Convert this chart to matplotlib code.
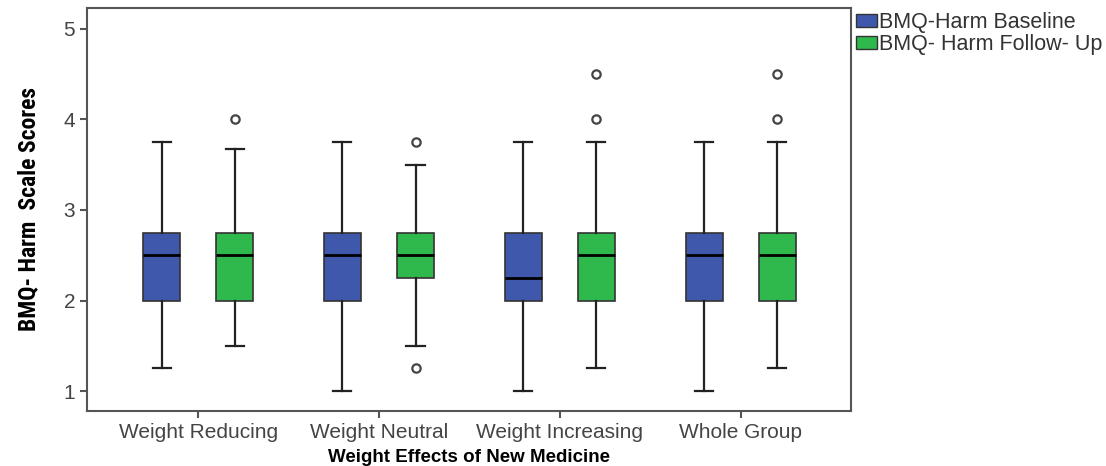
import matplotlib.pyplot as plt
from matplotlib.patches import Patch
from matplotlib import font_manager

groups = ["Weight Reducing", "Weight Neutral", "Weight Increasing", "Whole Group"]
series = ["BMQ-Harm Baseline", "BMQ- Harm Follow- Up"]

# five-number summaries: low whisker, Q1, median, Q3, high whisker
baseline = [
    [1.25, 2.0, 2.5, 2.75, 3.75],
    [1.0, 2.0, 2.5, 2.75, 3.75],
    [1.0, 2.0, 2.25, 2.75, 3.75],
    [1.0, 2.0, 2.5, 2.75, 3.75],
]
followup = [
    [1.5, 2.0, 2.5, 2.75, 3.67],
    [1.5, 2.25, 2.5, 2.75, 3.5],
    [1.25, 2.0, 2.5, 2.75, 3.75],
    [1.25, 2.0, 2.5, 2.75, 3.75],
]
baseline_out = [[], [], [], []]
followup_out = [[4.0], [3.75, 1.25], [4.0, 4.5], [4.0, 4.5]]

colors = ["#3f58ab", "#2fb84b"]
gray = "#555555"

plt.rcParams['font.family'] = ['Liberation Sans', 'DejaVu Sans']

# pick a condensed face for the y label if one is around
names = set(f.name for f in font_manager.fontManager.ttflist)
narrow = [n for n in ["Roboto Condensed", "Liberation Sans Narrow", "DejaVu Sans Condensed"] if n in names]

fig = plt.figure(figsize=(11.06, 4.66), dpi=100)
ax = fig.add_axes([0.0787, 0.118, 0.6908, 0.865])

def stats(vals, outs):
    s = []
    for v, o in zip(vals, outs):
        s.append(dict(whislo=v[0], q1=v[1], med=v[2], q3=v[3], whishi=v[4], fliers=o))
    return s

offs = [-0.202, 0.202]
for k, (vals, outs) in enumerate([(baseline, baseline_out), (followup, followup_out)]):
    pos = [i + offs[k] for i in range(len(groups))]
    ax.bxp(stats(vals, outs), positions=pos, widths=0.205, patch_artist=True,
           showfliers=True, capwidths=0.1,
           boxprops=dict(facecolor=colors[k], edgecolor="#333333", linewidth=1.2),
           medianprops=dict(color="black", linewidth=2),
           whiskerprops=dict(color="#222222", linewidth=1.6),
           capprops=dict(color="#222222", linewidth=1.6),
           flierprops=dict(marker="o", markerfacecolor="white", markeredgecolor="#444444",
                           markersize=6, markeredgewidth=1.6))

ax.set_xlim(-0.614, 3.61)
ax.set_ylim(0.78, 5.23)
ax.set_xticks(range(len(groups)))
ax.set_xticklabels(groups, fontsize=15, color="#444444")
ax.set_yticks([1, 2, 3, 4, 5])
ax.set_yticklabels(["1", "2", "3", "4", "5"], fontsize=15, color="#444444")
ax.tick_params(axis="both", direction="out", length=5, width=1.5, color=gray)
for sp in ax.spines.values():
    sp.set_color(gray)
    sp.set_linewidth(1.5)

ax.set_xlabel("Weight Effects of New Medicine", fontsize=13.5, fontweight="bold", labelpad=5)
if narrow:
    ax.set_ylabel("BMQ- Harm  Scale Scores", fontsize=17, fontweight="bold",
                  family=[narrow[0], "DejaVu Sans"], labelpad=17)
else:
    ax.set_ylabel("BMQ- Harm  Scale Scores", fontsize=14, fontweight="bold", labelpad=17)

handles = [Patch(facecolor=c, edgecolor="#333333", linewidth=1) for c in colors]
fig.legend(handles, series, loc="upper left", bbox_to_anchor=(0.764, 0.997), frameon=False,
           fontsize=15.5, borderpad=0, handlelength=1.0, handleheight=0.6,
           handletextpad=0.1, labelspacing=0.05, labelcolor="#333333")

fig.savefig("out.png", dpi=100)
